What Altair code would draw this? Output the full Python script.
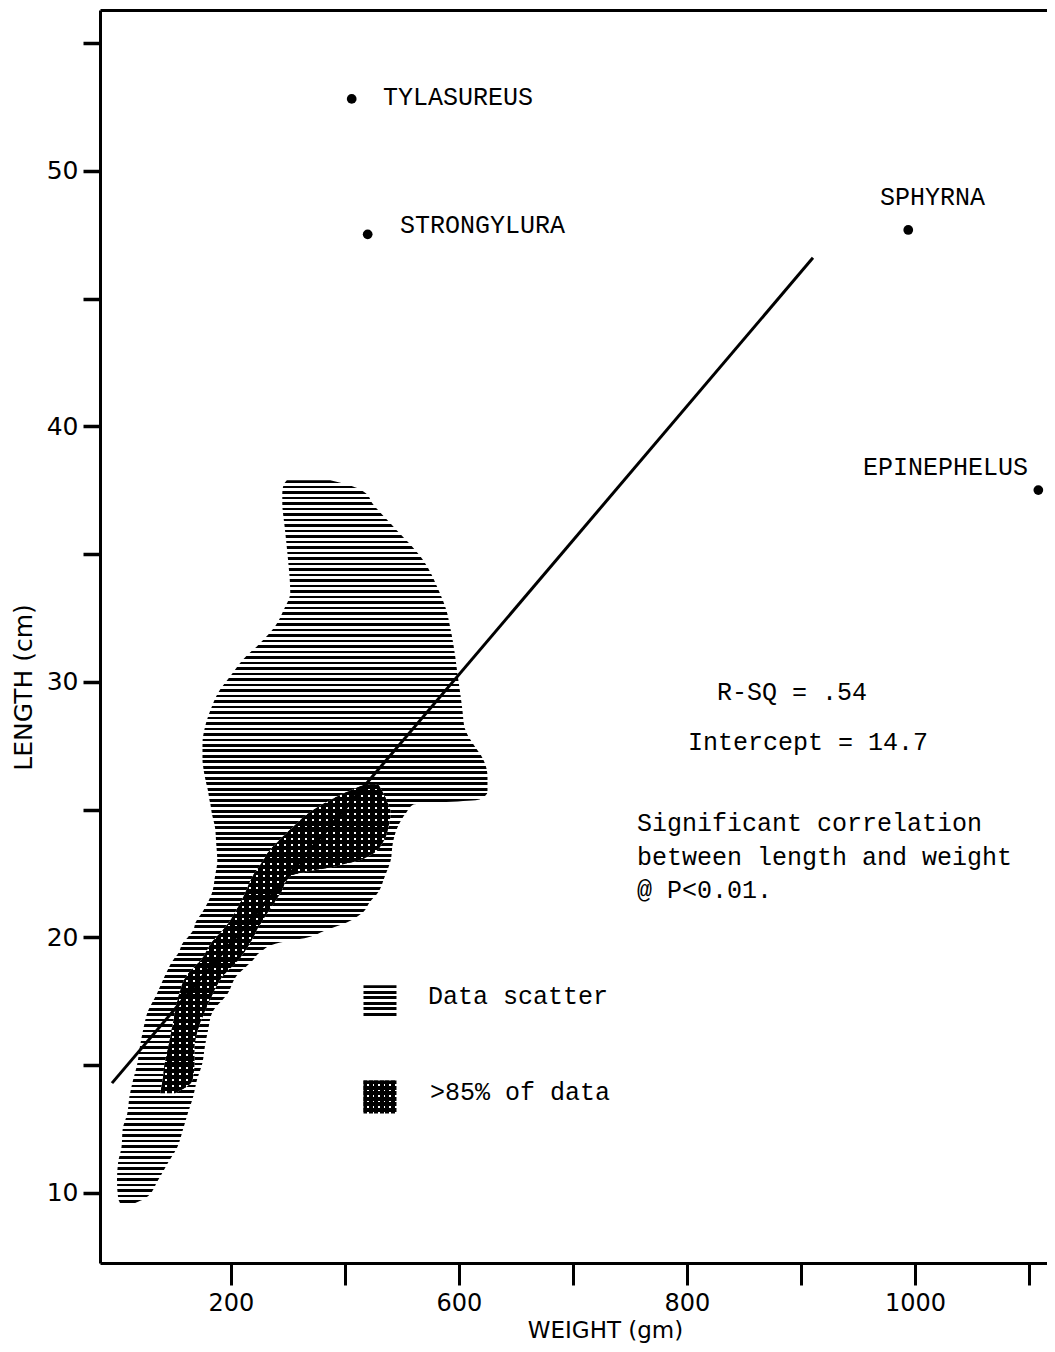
import altair as alt
import pandas as pd

# ---------------- axes ----------------
x_domain = [285.1, 1115.8]
y_domain = [7.26, 56.3]
x_tick_values = [400, 500, 600, 700, 800, 900, 1000, 1100]
x_label_values = [400, 600, 800, 1000]
x_label_texts = ["200", "600", "800", "1000"]
y_tick_values = [10, 15, 20, 25, 30, 35, 40, 45, 50, 55]
y_label_values = [10, 20, 30, 40, 50]

# ---------------- "Data scatter" envelope (length, weight left, weight right) ----------------
scatter_len = [9.5, 9.8, 10.5, 11.2, 11.8, 12.5, 13.1, 13.8, 14.4, 15.1, 15.7, 16.4, 17.1, 17.8,
               18.5, 19.1, 19.4, 19.8, 20.0, 20.3, 20.6, 21.0, 21.4, 21.7, 22.4, 23.0, 23.7, 24.3,
               24.9, 25.2, 25.4, 25.7, 26.3, 27.0, 27.6, 28.2, 28.9, 29.6, 30.2, 30.9, 31.5, 32.2,
               32.8, 33.5, 34.8, 36.1, 37.0, 37.4, 37.7, 37.9]
scatter_wmin = [304, 301, 300, 301, 304, 305, 309, 311, 314, 318, 320, 323, 327, 335,
                342, 349, 354, 358, 362, 367, 369, 375, 380, 383, 386, 388, 387, 386,
                383, 382, 381, 380, 377, 375, 375, 377, 382, 389, 399, 411, 425, 439,
                446, 452, 450, 447, 445, 445, 446, 449]
scatter_wmax = [310, 325, 336, 345, 353, 358, 362, 367, 370, 375, 377, 380, 384, 397,
                405, 419, 425, 443, 467, 484, 502, 516, 522, 528, 535, 540, 542, 546,
                554, 560, 618, 625, 625, 621, 612, 605, 603, 601, 599, 597, 595, 592,
                589, 583, 568, 542, 524, 518, 504, 487]

# ---------------- ">85% of data" core ----------------
core_len = [13.9, 14.4, 15.1, 15.7, 16.4, 17.1, 17.7, 18.5, 19.2, 19.8, 20.4, 21.1, 21.7,
            22.4, 22.8, 23.0, 23.3, 23.7, 24.3, 24.9, 25.3, 25.7, 26.0]
core_wmin = [338, 340, 342, 345, 348, 351, 354, 361, 375, 383, 395, 405, 412,
             419, 425, 428, 432, 440, 454, 469, 484, 502, 518]
core_wmax = [351, 366, 368, 368, 371, 377, 383, 393, 408, 417, 424, 434, 443,
             452, 493, 511, 525, 533, 538, 540, 537, 533, 529]

# ---------------- regression line ----------------
reg_w = [295.6, 910.5]
reg_len = [14.3, 46.6]

# ---------------- outlier species ----------------
species = ["TYLASUREUS", "STRONGYLURA", "SPHYRNA", "EPINEPHELUS"]
species_w = [505.9, 519.9, 994.1, 1108.2]
species_len = [52.82, 47.52, 47.69, 37.51]
species_label_w = [533.3, 548.2, 969.3, 954.4]
species_label_len = [52.90, 47.89, 48.98, 38.41]

# ---------------- annotations ----------------
notes = ["R-SQ = .54", "Intercept = 14.7", "Significant correlation",
         "between length and weight", "@ P<0.01."]
notes_w = [826.3, 800.9, 756.1, 756.1, 756.1]
notes_len = [29.61, 27.65, 24.48, 23.15, 21.86]

legend_labels = ["Data scatter", ">85% of data"]
legend_sym_w = [530.7, 530.7]
legend_sym_len = [17.48, 13.76]
legend_text_w = [572.8, 574.5]
legend_text_len = [17.72, 13.95]

MONO = "Liberation Mono"
SANS = "DejaVu Sans"


def stripes(n, dark_frac, vertical=False, light="rgba(0,0,0,0)"):
    stops = []
    for i in range(n):
        a = round(i / n, 5)
        b = round((i + dark_frac) / n, 5)
        c = round((i + 1) / n, 5)
        stops += [{"offset": a, "color": "black"}, {"offset": b, "color": "black"},
                  {"offset": b, "color": light}, {"offset": c, "color": light}]
    if vertical:
        return {"gradient": "linear", "x1": 0, "y1": 0, "x2": 1, "y2": 0, "stops": stops}
    return {"gradient": "linear", "x1": 0, "y1": 0, "x2": 0, "y2": 1, "stops": stops}


xs = alt.Scale(domain=x_domain, nice=False, zero=False)
ys = alt.Scale(domain=y_domain, nice=False, zero=False)

x_expr = " : ".join(f"datum.value == {v} ? '{t}'" for v, t in zip(x_label_values, x_label_texts)) + " : ''"
y_expr = f"indexof({y_label_values}, datum.value) >= 0 ? datum.label : ''"

x_axis = alt.Axis(values=x_tick_values, labelExpr=x_expr, labelFont=SANS, labelFontSize=24,
                  labelColor="black", labelPadding=6, labelFlush=False, labelOverlap=False,
                  tickSize=22, tickWidth=3, tickColor="black", domainColor="black", domainWidth=3,
                  grid=False, title="WEIGHT (gm)", titleFont=SANS, titleFontSize=23,
                  titleFontWeight="normal", titleColor="black", titleX=505, titleY=67,
                  titleAlign="center", titleBaseline="middle")
y_axis = alt.Axis(values=y_tick_values, labelExpr=y_expr, labelFont=SANS, labelFontSize=25,
                  labelColor="black", labelPadding=5, labelFlush=False, labelOverlap=False,
                  tickSize=17, tickWidth=3.5, tickColor="black", domainColor="black", domainWidth=3,
                  grid=False, title="LENGTH (cm)", titleFont=SANS, titleFontSize=25,
                  titleFontWeight="normal", titleColor="black", titleX=-77, titleY=677,
                  titleAngle=270, titleAlign="center", titleBaseline="middle")
top_axis = alt.Axis(orient="top", labels=False, ticks=False, title=None, domainColor="black",
                    domainWidth=3, grid=False)

scatter_df = pd.DataFrame({"length": scatter_len, "wmin": scatter_wmin, "wmax": scatter_wmax})
core_df = pd.DataFrame({"length": core_len, "wmin": core_wmin, "wmax": core_wmax})
reg_df = pd.DataFrame({"w": reg_w, "length": reg_len})
sp_df = pd.DataFrame({"name": species, "w": species_w, "length": species_len,
                      "lw": species_label_w, "ll": species_label_len})
notes_df = pd.DataFrame({"text": notes, "w": notes_w, "length": notes_len})
leg_df = pd.DataFrame({"label": legend_labels, "w": legend_sym_w, "length": legend_sym_len,
                       "tw": legend_text_w, "tl": legend_text_len})

scatter = alt.Chart(scatter_df).mark_area(
    orient="horizontal", interpolate="monotone", fill=stripes(132, 0.48), opacity=1, strokeWidth=0
).encode(
    y=alt.Y("length:Q", scale=ys, axis=y_axis),
    x=alt.X("wmin:Q", scale=xs, axis=x_axis),
    x2="wmax:Q",
)


def core_layer(fill):
    return alt.Chart(core_df).mark_area(
        orient="horizontal", interpolate="monotone", fill=fill, opacity=1, strokeWidth=0
    ).encode(
        y=alt.Y("length:Q", scale=ys, axis=None),
        x=alt.X("wmin:Q", scale=xs, axis=None),
        x2="wmax:Q",
    )


core_white = core_layer("white")
core_h = core_layer(stripes(50, 0.7))
core_v = core_layer(stripes(33, 0.7, vertical=True))

reg = alt.Chart(reg_df).mark_line(color="black", strokeWidth=3).encode(
    x=alt.X("w:Q", scale=xs, axis=top_axis),
    y=alt.Y("length:Q", scale=ys, axis=None),
)

pts = alt.Chart(sp_df).mark_circle(size=95, color="black", opacity=1).encode(
    x=alt.X("w:Q", scale=xs, axis=None),
    y=alt.Y("length:Q", scale=ys, axis=None),
)
sp_text = alt.Chart(sp_df).mark_text(align="left", baseline="middle", font=MONO, fontSize=25,
                                     color="black").encode(
    x=alt.X("lw:Q", scale=xs, axis=None),
    y=alt.Y("ll:Q", scale=ys, axis=None),
    text="name:N",
)

note_text = alt.Chart(notes_df).mark_text(align="left", baseline="middle", font=MONO, fontSize=25,
                                          color="black").encode(
    x=alt.X("w:Q", scale=xs, axis=None),
    y=alt.Y("length:Q", scale=ys, axis=None),
    text="text:N",
)


def leg_square(row, fill):
    return alt.Chart(leg_df.iloc[[row]]).mark_square(size=1089, fill=fill, opacity=1,
                                                     strokeWidth=0).encode(
        x=alt.X("w:Q", scale=xs, axis=None),
        y=alt.Y("length:Q", scale=ys, axis=None),
    )


leg1 = leg_square(0, stripes(6, 0.48))
leg2w = leg_square(1, "white")
leg2h = leg_square(1, stripes(6, 0.7))
leg2v = leg_square(1, stripes(6, 0.7, vertical=True))

leg_text = alt.Chart(leg_df).mark_text(align="left", baseline="middle", font=MONO, fontSize=25,
                                       color="black").encode(
    x=alt.X("tw:Q", scale=xs, axis=None),
    y=alt.Y("tl:Q", scale=ys, axis=None),
    text="label:N",
)

chart = alt.layer(
    scatter, core_white, core_h, core_v, reg, pts, sp_text, note_text,
    leg1, leg2w, leg2h, leg2v, leg_text
).resolve_axis(x="independent", y="independent").properties(
    width=947, height=1253,
    autosize=alt.AutoSizeParams(type="none"),
    padding={"left": 92, "top": 2, "right": 0, "bottom": 80},
    background="white",
).configure_view(stroke=None)

chart.save("out.html", embed_options={"renderer": "svg", "actions": False})
